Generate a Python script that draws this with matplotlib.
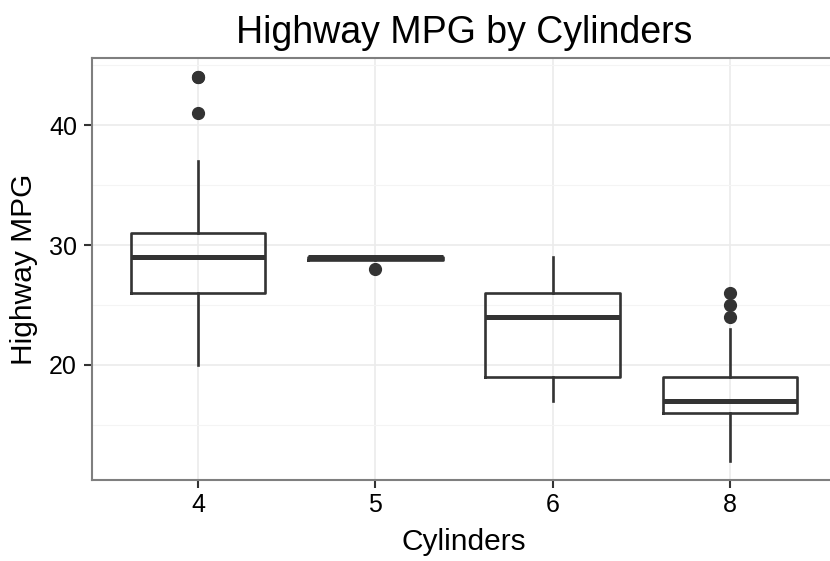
import matplotlib
matplotlib.use("Agg")
import matplotlib.pyplot as plt
from matplotlib.ticker import MultipleLocator

plt.rcParams['font.family'] = ['Liberation Sans', 'DejaVu Sans']

# hwy mpg summary per cylinder group
cyl = ['4', '5', '6', '8']
q1 = [26, 28.75, 19, 16]
med = [29, 29, 24, 17]
q3 = [31, 29, 26, 19]
whislo = [20, 29, 17, 12]
whishi = [37, 29, 29, 23]
fliers = [[41, 44, 44], [28], [], [24, 25, 26]]

stats = []
for i in range(len(cyl)):
    stats.append(dict(label=cyl[i], q1=q1[i], med=med[i], q3=q3[i],
                      whislo=whislo[i], whishi=whishi[i], fliers=fliers[i]))

fig = plt.figure(figsize=(8.3, 5.61), dpi=100)
ax = fig.add_axes([91.5/830, 1-480/561, (836.5-91.5)/830, (480-58)/561])

col = '#333333'
ax.bxp(stats, positions=range(1, 5), widths=0.76, showcaps=False,
       boxprops=dict(color=col, linewidth=1.9),
       whiskerprops=dict(color=col, linewidth=1.9),
       medianprops=dict(color=col, linewidth=3.6, solid_capstyle='butt'),
       flierprops=dict(marker='o', markerfacecolor=col, markeredgecolor=col,
                       markersize=8.5))

ax.set_xlim(0.4, 4.6)
ax.set_ylim(10.4, 45.6)
ax.yaxis.set_major_locator(MultipleLocator(10))
ax.yaxis.set_minor_locator(MultipleLocator(5))
ax.set_axisbelow(True)
ax.grid(True, which='major', color='#ebebeb', linewidth=1.2)
ax.grid(True, which='minor', axis='y', color='#f4f4f4', linewidth=0.8)
ax.tick_params(which='minor', length=0)
ax.tick_params(which='major', length=5.5, width=1.5, color=col,
               labelsize=18, labelcolor='black')
ax.tick_params(axis='y', pad=5)
ax.tick_params(axis='x', pad=4)
for s in ax.spines.values():
    s.set_color('#7f7f7f')
    s.set_linewidth(1.5)
ax.spines['right'].set_visible(False)

ax.set_title('Highway MPG by Cylinders', fontsize=27, pad=11)
ax.set_xlabel('Cylinders', fontsize=21.5, labelpad=8)
ax.set_ylabel('Highway MPG', fontsize=21.5, labelpad=8)

fig.savefig('out.png', dpi=100)
